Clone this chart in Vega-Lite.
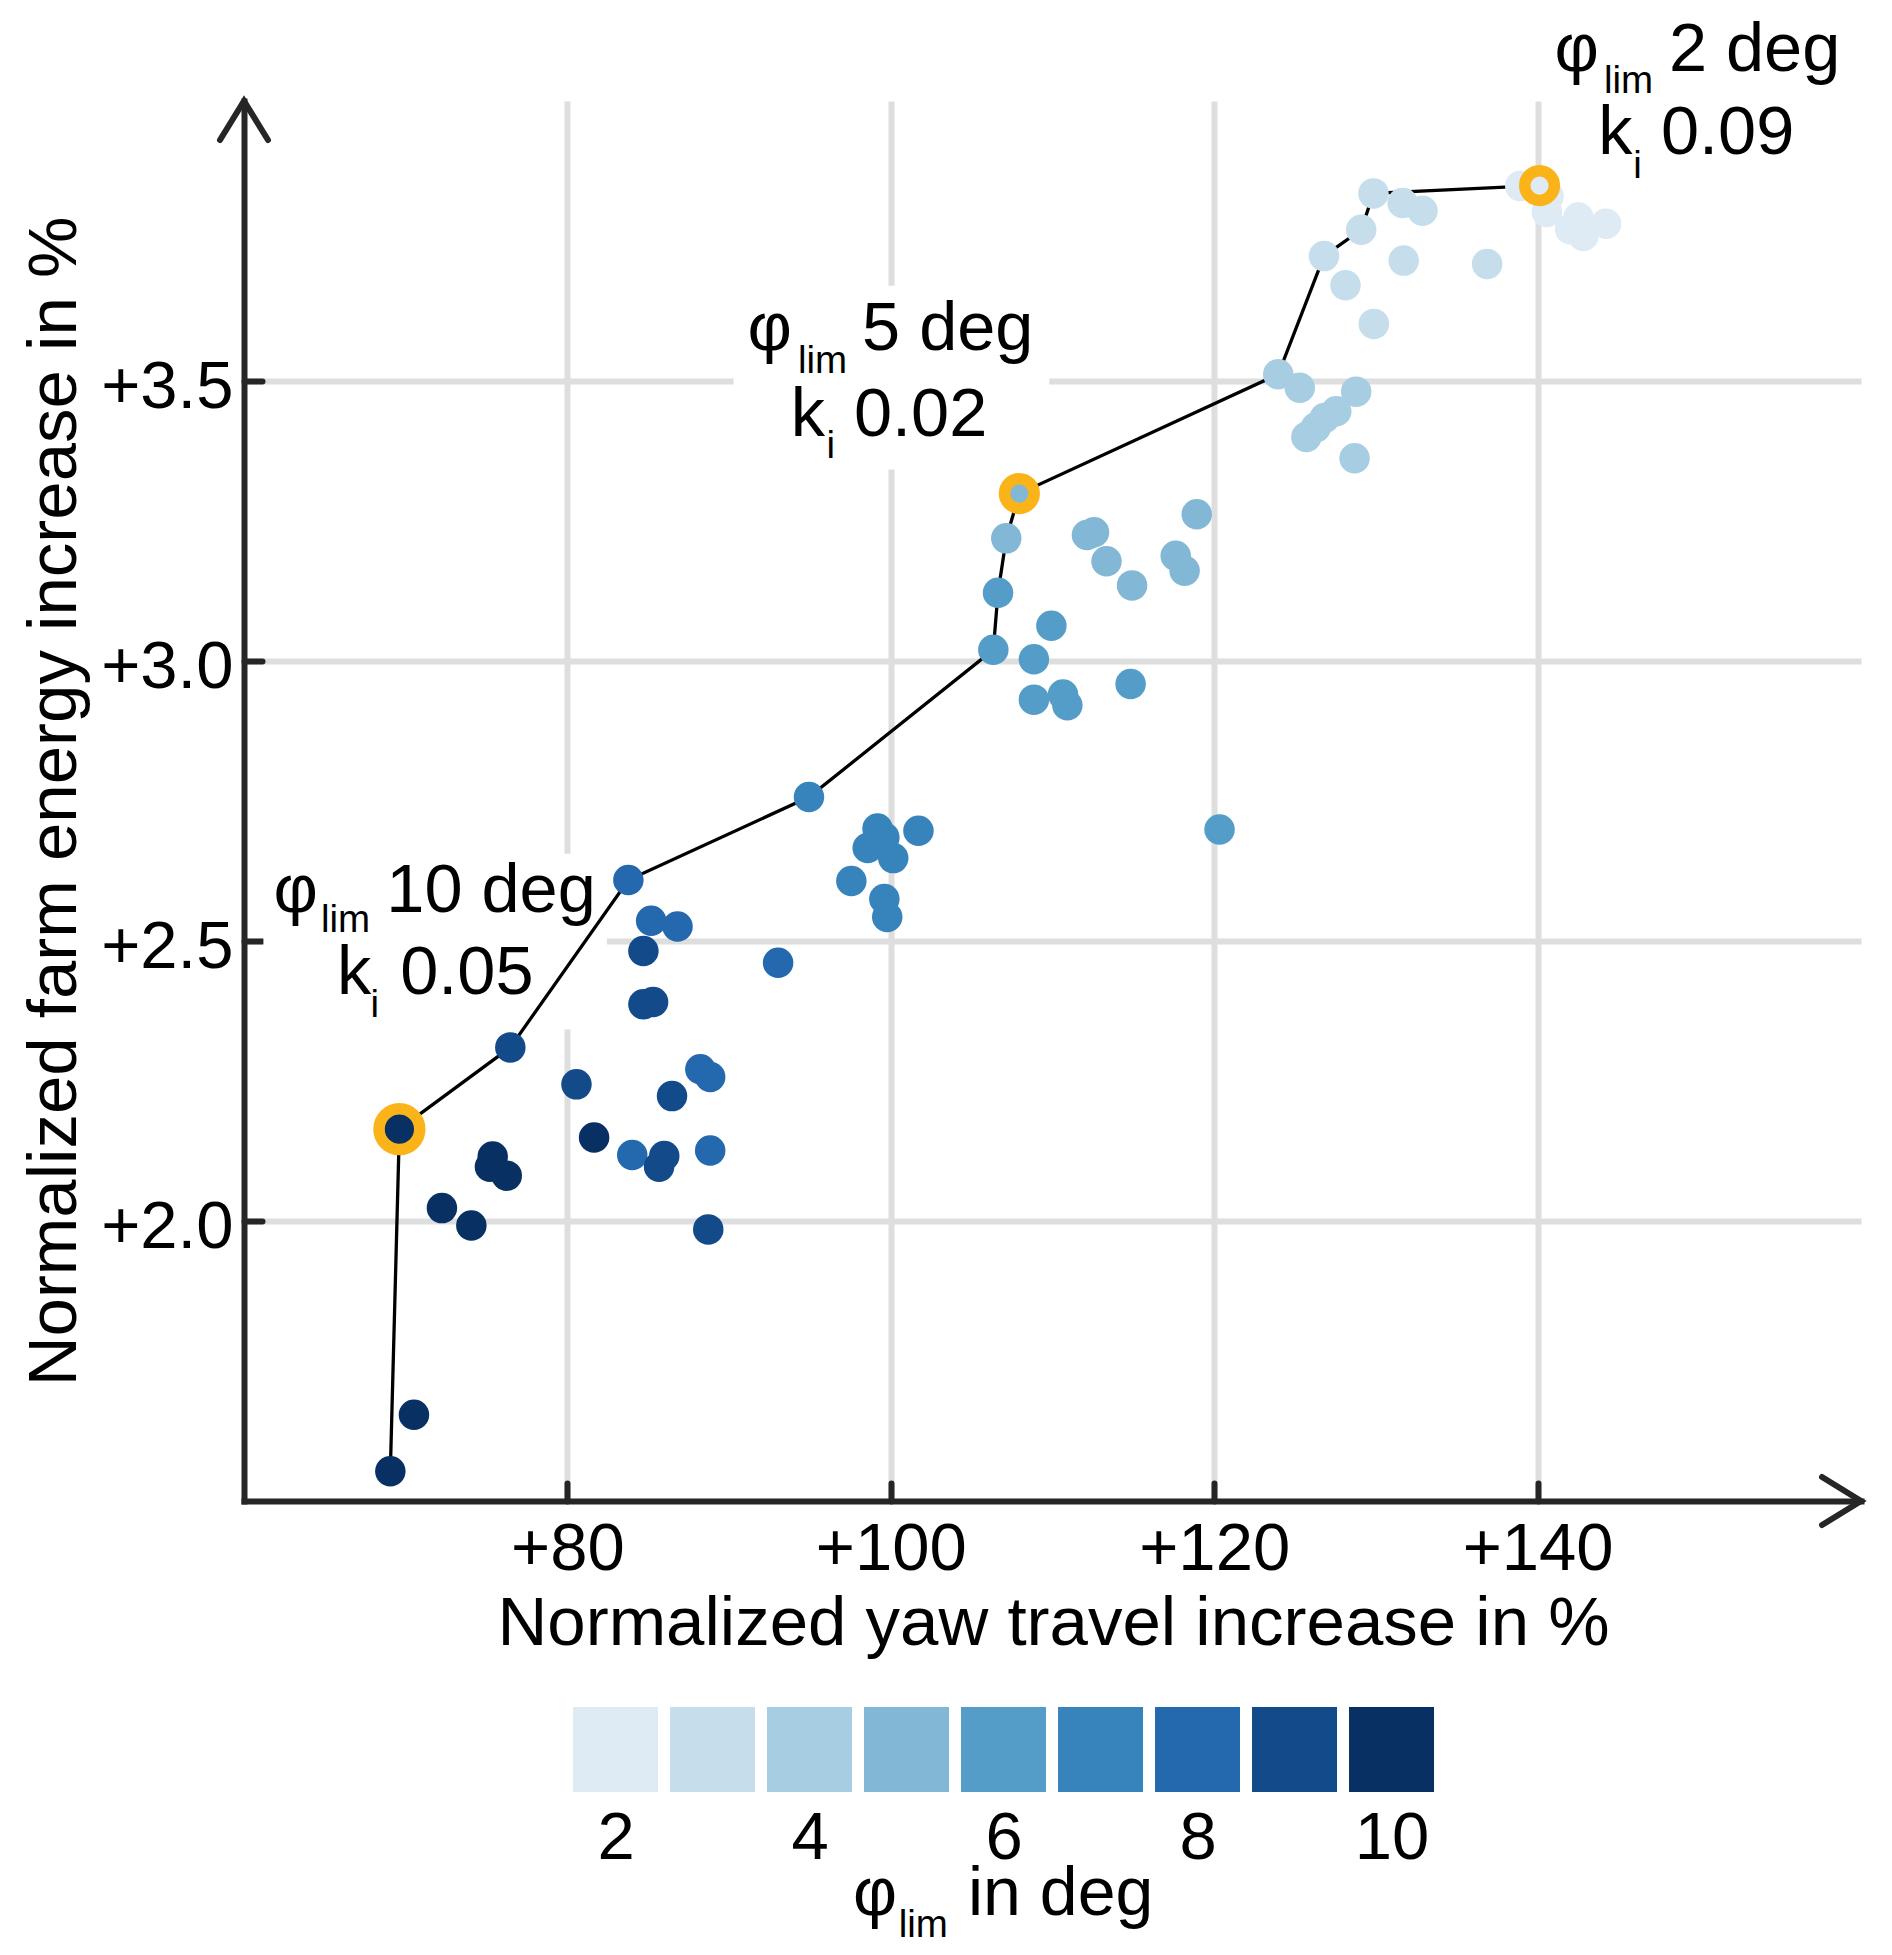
{
  "$schema": "https://vega.github.io/schema/vega-lite/v6.json",
  "background": "white",
  "padding": {"left": 20, "top": 15, "right": 28, "bottom": 13},
  "bounds": "flush",
  "spacing": 206,
  "config": {
    "view": {"stroke": null},
    "font": "Liberation Sans",
    "text": {"font": "Liberation Sans", "color": "#000000"}
  },
  "datasets": {
    "points": [
      {"x": 138.93, "y": 3.848, "phi": 2},
      {"x": 140.68, "y": 3.830, "phi": 2},
      {"x": 140.57, "y": 3.802, "phi": 2},
      {"x": 142.52, "y": 3.792, "phi": 2},
      {"x": 142.01, "y": 3.771, "phi": 2},
      {"x": 142.83, "y": 3.759, "phi": 2},
      {"x": 144.23, "y": 3.781, "phi": 2},
      {"x": 140.12, "y": 3.849, "phi": 2, "front": 14, "hl": true},
      {"x": 129.85, "y": 3.835, "phi": 3, "front": 13},
      {"x": 131.65, "y": 3.818, "phi": 3},
      {"x": 132.88, "y": 3.804, "phi": 3},
      {"x": 129.09, "y": 3.770, "phi": 3, "front": 12},
      {"x": 126.79, "y": 3.723, "phi": 3, "front": 11},
      {"x": 131.72, "y": 3.715, "phi": 3},
      {"x": 136.88, "y": 3.709, "phi": 3},
      {"x": 128.12, "y": 3.671, "phi": 3},
      {"x": 129.87, "y": 3.602, "phi": 3},
      {"x": 123.96, "y": 3.512, "phi": 4, "front": 10},
      {"x": 125.29, "y": 3.488, "phi": 4},
      {"x": 128.78, "y": 3.481, "phi": 4},
      {"x": 127.55, "y": 3.446, "phi": 4},
      {"x": 126.83, "y": 3.434, "phi": 4},
      {"x": 126.28, "y": 3.417, "phi": 4},
      {"x": 125.70, "y": 3.400, "phi": 4},
      {"x": 128.68, "y": 3.362, "phi": 4},
      {"x": 107.95, "y": 3.299, "phi": 5, "front": 9, "hl": true},
      {"x": 107.14, "y": 3.219, "phi": 5, "front": 8},
      {"x": 112.13, "y": 3.225, "phi": 5},
      {"x": 112.57, "y": 3.230, "phi": 5},
      {"x": 113.34, "y": 3.178, "phi": 5},
      {"x": 114.92, "y": 3.135, "phi": 5},
      {"x": 117.62, "y": 3.188, "phi": 5},
      {"x": 118.17, "y": 3.161, "phi": 5},
      {"x": 118.92, "y": 3.262, "phi": 5},
      {"x": 106.63, "y": 3.122, "phi": 6, "front": 7},
      {"x": 106.34, "y": 3.020, "phi": 6, "front": 6},
      {"x": 109.93, "y": 3.063, "phi": 6},
      {"x": 108.85, "y": 3.003, "phi": 6},
      {"x": 108.85, "y": 2.931, "phi": 6},
      {"x": 110.65, "y": 2.940, "phi": 6},
      {"x": 110.92, "y": 2.921, "phi": 6},
      {"x": 114.83, "y": 2.959, "phi": 6},
      {"x": 120.33, "y": 2.699, "phi": 6},
      {"x": 94.94, "y": 2.757, "phi": 7, "front": 5},
      {"x": 99.18, "y": 2.701, "phi": 7},
      {"x": 98.57, "y": 2.666, "phi": 7},
      {"x": 99.60, "y": 2.685, "phi": 7},
      {"x": 100.15, "y": 2.648, "phi": 7},
      {"x": 101.71, "y": 2.697, "phi": 7},
      {"x": 97.56, "y": 2.607, "phi": 7},
      {"x": 99.60, "y": 2.575, "phi": 7},
      {"x": 99.78, "y": 2.543, "phi": 7},
      {"x": 83.77, "y": 2.609, "phi": 8, "front": 4},
      {"x": 85.18, "y": 2.536, "phi": 8},
      {"x": 86.81, "y": 2.526, "phi": 8},
      {"x": 93.03, "y": 2.461, "phi": 8},
      {"x": 88.22, "y": 2.271, "phi": 8},
      {"x": 88.83, "y": 2.257, "phi": 8},
      {"x": 84.01, "y": 2.118, "phi": 8},
      {"x": 88.83, "y": 2.126, "phi": 8},
      {"x": 84.70, "y": 2.482, "phi": 9},
      {"x": 84.70, "y": 2.387, "phi": 9},
      {"x": 85.30, "y": 2.391, "phi": 9},
      {"x": 76.47, "y": 2.310, "phi": 9, "front": 3},
      {"x": 80.56, "y": 2.244, "phi": 9},
      {"x": 86.47, "y": 2.223, "phi": 9},
      {"x": 85.99, "y": 2.116, "phi": 9},
      {"x": 85.67, "y": 2.097, "phi": 9},
      {"x": 88.71, "y": 1.985, "phi": 9},
      {"x": 81.65, "y": 2.149, "phi": 10},
      {"x": 75.38, "y": 2.115, "phi": 10},
      {"x": 75.21, "y": 2.097, "phi": 10},
      {"x": 76.25, "y": 2.081, "phi": 10},
      {"x": 72.24, "y": 2.023, "phi": 10},
      {"x": 74.06, "y": 1.992, "phi": 10},
      {"x": 70.51, "y": 1.654, "phi": 10},
      {"x": 69.05, "y": 1.553, "phi": 10, "front": 1},
      {"x": 69.61, "y": 2.164, "phi": 10, "front": 2, "hl": true}
    ],
    "annot": [
      {"x": 141.05, "y": 4.054, "text": "φ", "kind": "main"},
      {"x": 144.1, "y": 4.015, "text": "lim", "kind": "sub"},
      {"x": 148.12, "y": 4.054, "text": "2 deg", "kind": "main"},
      {"x": 143.75, "y": 3.905, "text": "k", "kind": "main"},
      {"x": 145.91, "y": 3.863, "text": "i", "kind": "sub"},
      {"x": 147.63, "y": 3.905, "text": "0.09", "kind": "main"},
      {"x": 91.14, "y": 3.556, "text": "φ", "kind": "main"},
      {"x": 94.26, "y": 3.515, "text": "lim", "kind": "sub"},
      {"x": 98.22, "y": 3.556, "text": "5 deg", "kind": "main"},
      {"x": 93.82, "y": 3.402, "text": "k", "kind": "main"},
      {"x": 96.03, "y": 3.363, "text": "i", "kind": "sub"},
      {"x": 97.72, "y": 3.402, "text": "0.02", "kind": "main"},
      {"x": 61.82, "y": 2.552, "text": "φ", "kind": "main"},
      {"x": 64.76, "y": 2.516, "text": "lim", "kind": "sub"},
      {"x": 68.80, "y": 2.552, "text": "10 deg", "kind": "main"},
      {"x": 65.75, "y": 2.405, "text": "k", "kind": "main"},
      {"x": 67.83, "y": 2.364, "text": "i", "kind": "sub"},
      {"x": 69.66, "y": 2.405, "text": "0.05", "kind": "main"}
    ],
    "boxes": [
      {"x": 90.28, "x2": 109.8, "y": 3.342, "y2": 3.670},
      {"x": 61.2, "x2": 82.44, "y": 2.342, "y2": 2.656}
    ],
    "phis": [
      {"phi": 2}, {"phi": 3}, {"phi": 4}, {"phi": 5}, {"phi": 6},
      {"phi": 7}, {"phi": 8}, {"phi": 9}, {"phi": 10}
    ],
    "legendtitle": [
      {"phi": 4.448, "text": "φ", "kind": "main"},
      {"phi": 4.92, "text": "lim", "kind": "sub"},
      {"phi": 5.634, "text": "in deg", "kind": "main"}
    ]
  },
  "vconcat": [
    {
      "width": 1617,
      "height": 1400,
      "layer": [
        {
          "data": {"name": "boxes"},
          "mark": {"type": "rect", "fill": "white", "strokeWidth": 0},
          "encoding": {
            "x": {
              "field": "x", "type": "quantitative",
              "scale": {"domain": [60, 160], "nice": false, "zero": false},
              "axis": {
                "title": "Normalized yaw travel increase in %",
                "values": [80, 100, 120, 140],
                "labelExpr": "'+' + datum.value",
                "domainColor": "#262626", "domainWidth": 6, "domainCap": "square",
                "tickColor": "#262626", "tickWidth": 6, "tickSize": -18, "tickCap": "round",
                "grid": true, "gridColor": "#dedede", "gridWidth": 6,
                "labelFontSize": 67, "labelColor": "#000000", "labelBaseline": "alphabetic",
                "labelPadding": 86, "labelFlush": false, "labelOverlap": false,
                "titleFontSize": 69, "titleFontWeight": "normal", "titleColor": "#000000",
                "titleX": 809, "titleY": 143, "titleBaseline": "alphabetic", "titleAlign": "center"
              }
            },
            "x2": {"field": "x2"},
            "y": {
              "field": "y", "type": "quantitative",
              "scale": {"domain": [1.5, 4.0], "nice": false, "zero": false},
              "axis": {
                "title": "Normalized farm energy increase in %",
                "values": [2, 2.5, 3, 3.5],
                "labelExpr": "'+' + format(datum.value, '.1f')",
                "domainColor": "#262626", "domainWidth": 6, "domainCap": "square",
                "tickColor": "#262626", "tickWidth": 6, "tickSize": -18, "tickCap": "round",
                "grid": true, "gridColor": "#dedede", "gridWidth": 6,
                "labelFontSize": 67, "labelColor": "#000000", "labelBaseline": "alphabetic",
                "labelAlign": "right", "labelPadding": 29, "labelOffset": 26,
                "labelFlush": false, "labelOverlap": false,
                "titleFontSize": 69, "titleFontWeight": "normal", "titleColor": "#000000",
                "titleX": -169, "titleY": 700, "titleAngle": -90,
                "titleBaseline": "alphabetic", "titleAlign": "center"
              }
            },
            "y2": {"field": "y2"}
          }
        },
        {
          "data": {"name": "points"},
          "transform": [{"filter": "isValid(datum.front)"}],
          "mark": {"type": "line", "color": "#000000", "strokeWidth": 3.3},
          "encoding": {
            "x": {"field": "x", "type": "quantitative"},
            "y": {"field": "y", "type": "quantitative"},
            "order": {"field": "front", "type": "quantitative"}
          }
        },
        {
          "data": {"name": "points"},
          "mark": {"type": "circle", "size": 930, "opacity": 1, "strokeWidth": 0},
          "encoding": {
            "x": {"field": "x", "type": "quantitative"},
            "y": {"field": "y", "type": "quantitative"},
            "color": {
              "field": "phi", "type": "ordinal",
              "scale": {
                "domain": [2, 3, 4, 5, 6, 7, 8, 9, 10],
                "range": ["#deebf4", "#c6ddec", "#a6cde1", "#82b8d6", "#549dc8", "#3784bc", "#2468ae", "#134b8a", "#083063"]
              },
              "legend": null
            }
          }
        },
        {
          "data": {"name": "points"},
          "transform": [{"filter": "datum.hl === true"}],
          "mark": {"type": "point", "shape": "circle", "filled": false, "stroke": "#fbb31a", "strokeWidth": 11.5, "opacity": 1},
          "encoding": {
            "x": {"field": "x", "type": "quantitative"},
            "y": {"field": "y", "type": "quantitative"},
            "size": {"condition": {"test": "datum.phi == 10", "value": 1662}, "value": 881}
          }
        },
        {
          "data": {"name": "annot"},
          "transform": [{"filter": "datum.kind == 'main'"}],
          "mark": {"type": "text", "fontSize": 68.5, "align": "left", "baseline": "alphabetic", "color": "#000000"},
          "encoding": {
            "x": {"field": "x", "type": "quantitative"},
            "y": {"field": "y", "type": "quantitative"},
            "text": {"field": "text"}
          }
        },
        {
          "data": {"name": "annot"},
          "transform": [{"filter": "datum.kind == 'sub'"}],
          "mark": {"type": "text", "fontSize": 38.5, "align": "left", "baseline": "alphabetic", "color": "#000000"},
          "encoding": {
            "x": {"field": "x", "type": "quantitative"},
            "y": {"field": "y", "type": "quantitative"},
            "text": {"field": "text"}
          }
        },
        {
          "data": {"values": [{"end": "x"}]},
          "mark": {"type": "point", "shape": "M -0.975 -0.6 L 0 0 L -0.975 0.6", "filled": false, "stroke": "#262626", "strokeWidth": 6, "strokeCap": "round", "strokeJoin": "miter", "size": 6400, "opacity": 1},
          "encoding": {
            "x": {"datum": 160},
            "y": {"datum": 1.5}
          }
        },
        {
          "data": {"values": [{"end": "y"}]},
          "mark": {"type": "point", "shape": "M -0.6 0.975 L 0 0 L 0.6 0.975", "filled": false, "stroke": "#262626", "strokeWidth": 6, "strokeCap": "round", "strokeJoin": "miter", "size": 6400, "opacity": 1},
          "encoding": {
            "x": {"datum": 60},
            "y": {"datum": 4.0}
          }
        }
      ]
    },
    {
      "width": 1617,
      "height": 85,
      "layer": [
        {
          "data": {"name": "phis"},
          "mark": {"type": "point", "shape": "square", "filled": true, "size": 7225, "opacity": 1, "strokeWidth": 0},
          "encoding": {
            "x": {
              "field": "phi", "type": "quantitative",
              "scale": {"domain": [-1.83, 14.84], "nice": false, "zero": false},
              "axis": {
                "title": null,
                "values": [2, 4, 6, 8, 10],
                "format": "d",
                "domain": false, "ticks": false, "tickSize": 0, "grid": false,
                "labelFontSize": 67, "labelColor": "#000000", "labelBaseline": "alphabetic",
                "labelPadding": 66, "labelFlush": false, "labelOverlap": false
              }
            },
            "color": {
              "field": "phi", "type": "ordinal",
              "scale": {
                "domain": [2, 3, 4, 5, 6, 7, 8, 9, 10],
                "range": ["#deebf4", "#c6ddec", "#a6cde1", "#82b8d6", "#549dc8", "#3784bc", "#2468ae", "#134b8a", "#083063"]
              },
              "legend": null
            }
          }
        },
        {
          "data": {"name": "legendtitle"},
          "transform": [{"filter": "datum.kind == 'main'"}],
          "mark": {"type": "text", "fontSize": 68, "align": "left", "baseline": "alphabetic", "dy": 165.5, "color": "#000000"},
          "encoding": {
            "x": {"field": "phi", "type": "quantitative", "title": null},
            "text": {"field": "text"}
          }
        },
        {
          "data": {"name": "legendtitle"},
          "transform": [{"filter": "datum.kind == 'sub'"}],
          "mark": {"type": "text", "fontSize": 38.5, "align": "left", "baseline": "alphabetic", "dy": 187.5, "color": "#000000"},
          "encoding": {
            "x": {"field": "phi", "type": "quantitative", "title": null},
            "text": {"field": "text"}
          }
        }
      ]
    }
  ]
}
